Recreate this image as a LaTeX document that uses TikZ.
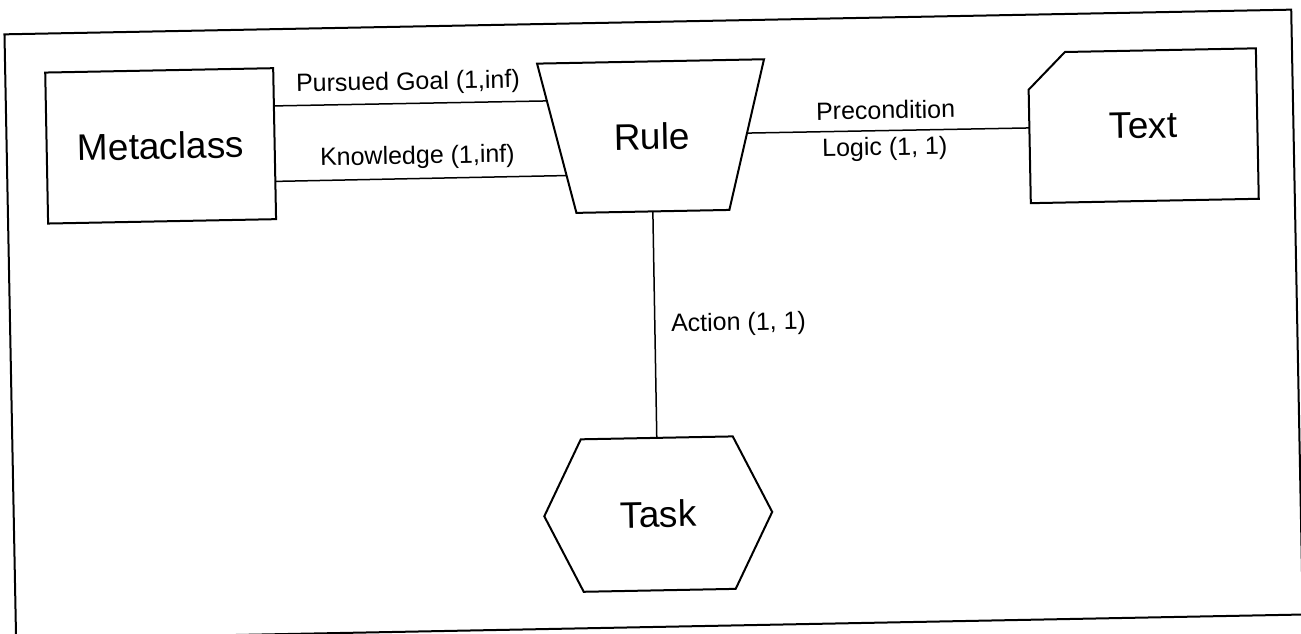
\documentclass[tikz,border=0pt]{standalone}
\usepackage{fontspec}
\setmainfont{Liberation Sans}
\usetikzlibrary{calc}
\begin{document}
\begin{tikzpicture}[x=1pt,y=-1pt,
  outline/.style={draw=black,line width=2pt,line join=miter},
  link/.style={draw=black,line width=1.5pt},
  entity/.style={inner sep=0pt,outer sep=0pt,font=\fontsize{37}{40}\selectfont},
  role/.style={inner sep=0pt,font=\fontsize{25}{28}\selectfont},
]
\useasboundingbox[fill=white] (0,0) rectangle (1301,634);
\begin{scope}[rotate around={1.1:(650,317)},transform shape]
  % page frame
  \draw[outline] (10,22) rectangle (1297,627);

  % Metaclass: plain box
  \node[entity,outline,minimum width=228pt,minimum height=151pt] (meta) at (164,136.5) {Metaclass};

  % Rule: trapezoid, wide side on top
  \node[entity,minimum width=227pt,minimum height=150pt] (rule) at (655.5,136.5) {Rule};
  \coordinate (rtl) at (rule.north west);
  \coordinate (rtr) at (rule.north east);
  \coordinate (rbr) at ([xshift=-37.5pt]rule.south east);
  \coordinate (rbl) at ([xshift=36.5pt]rule.south west);
  \draw[outline] (rtl) -- (rtr) -- (rbr) -- (rbl) -- cycle;

  % Text: box with the top left corner cut off
  \node[entity,minimum width=228pt,minimum height=150.5pt] (text) at (1147,135.25) {Text};
  \draw[outline] ([yshift=-37pt]text.north west) -- ([xshift=37pt]text.north west)
    -- (text.north east) -- (text.south east) -- (text.south west) -- cycle;

  % Task: hexagon with pointed sides
  \node[entity,minimum width=228pt,minimum height=152.5pt] (task) at (654.5,514.25) {Task};
  \draw[outline] (task.west) -- ([xshift=38pt]task.north west) -- ([xshift=-38pt]task.north east)
    -- (task.east) -- ([xshift=-38pt]task.south east) -- ([xshift=38pt]task.south west) -- cycle;

  % attachment points on the shapes
  \coordinate (pgR) at ($(rtl)!0.25!(rbl)$);
  \coordinate (knR) at ($(rtl)!0.75!(rbl)$);
  \coordinate (pgM) at ($(meta.north east)!0.25!(meta.south east)$);
  \coordinate (knM) at ($(meta.north east)!0.75!(meta.south east)$);
  \coordinate (pcR) at ($(rtr)!0.49!(rbr)$);
  \coordinate (acR) at ($(rbl)!0.5!(rbr)$);

  % relationships
  \draw[link] (pgM) -- (pgR);
  \draw[link] (knM) -- (knR);
  \draw[link] (pcR) -- (text.west);
  \draw[link] (acR) -- (task.north);

  % role labels
  \node[role] (lpg) at (412.5,78.7) {Pursued Goal (1,inf)};
  \node[role] (lkn) at (420.5,152.9) {Knowledge (1,inf)};
  \node[role] (lpc) at (889.5,114.5) {Precondition};
  \node[role] (llg) at (888,153.5) {Logic (1, 1)};
  \node[role] (lac) at (738.4,325.7) {Action (1, 1)};
\end{scope}
\end{tikzpicture}
\end{document}
